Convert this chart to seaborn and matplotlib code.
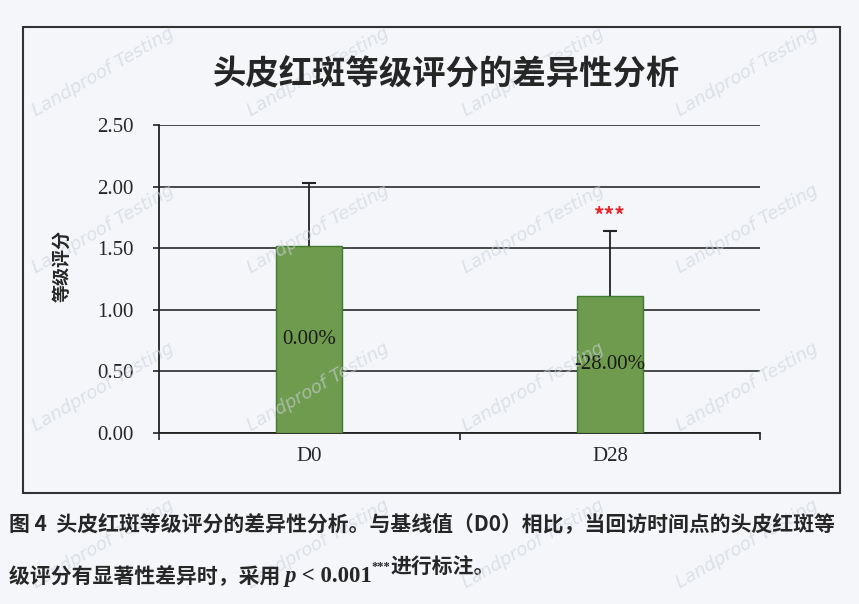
import matplotlib.pyplot as plt
import seaborn as sns
import pandas as pd
from matplotlib.patches import Rectangle

# values
visits = ["D0", "D28"]
scores = [1.52, 1.11]
sds = [0.51, 0.53]
changes = ["0.00%", "-28.00%"]
marks = ["", "***"]
yticks = [0.0, 0.5, 1.0, 1.5, 2.0, 2.5]

title = "头皮红斑等级评分的差异性分析"
ylabel = "等级评分"
caption1 = "图 4  头皮红斑等级评分的差异性分析。与基线值（D0）相比，当回访时间点的头皮红斑等"
caption2 = ["级评分有显著性差异时，采用 ", "p", " < 0.001", "***", "进行标注。"]

sns.set_theme(style="white")
cjk = ["Noto Sans CJK SC", "DejaVu Sans"]
serif = ["Liberation Serif", "DejaVu Serif"]
plt.rcParams["font.family"] = cjk

bg = "#f4f6f9"
fig = plt.figure(figsize=(8.59, 6.04), dpi=100, facecolor=bg)

# faint watermark, kept inside the page
for wx in [0.12, 0.37, 0.62, 0.87]:
    for wy in [0.1, 0.36, 0.62, 0.88]:
        fig.text(wx, wy, "Landproof Testing", rotation=30, ha="center", va="center",
                 fontsize=13, family=["DejaVu Sans"], style="italic",
                 color="#cdd3dc", alpha=0.6, zorder=0)

ax = fig.add_axes([0.185, 0.283, 0.70, 0.510])
ax.set_facecolor("none")

df = pd.DataFrame({"visit": visits, "score": scores})
sns.barplot(data=df, x="visit", y="score", width=0.22, color="#6f9b4f",
            edgecolor="#3e7a2c", linewidth=1.0, saturation=1, zorder=3, ax=ax)

# upper error bars (cap on top only) + labels
for bar, sd, lab, mk in zip(ax.patches, sds, changes, marks):
    cx = bar.get_x() + bar.get_width() / 2
    h = bar.get_height()
    ax.vlines(cx, h, h + sd, color="#222222", linewidth=1.3, zorder=4)
    ax.plot([cx], [h + sd], marker="_", markersize=10, markeredgewidth=1.5,
            color="#222222", zorder=4)
    ax.text(cx, h / 2, lab, ha="center", va="center", fontsize=15,
            family=serif, color="#1a1a1a", zorder=5)
    if mk:
        ax.text(cx, h + sd + 0.03, mk, ha="center", va="bottom",
                fontsize=15, color="#e8262b", fontweight="bold", zorder=5)

ax.set_ylim(0, 2.5)
ax.set_xlim(-0.5, 1.5)
ax.set_yticks(yticks)
ax.set_yticklabels([f"{v:.2f}" for v in yticks], family=serif, fontsize=15)
ax.set_xticks(range(len(visits)))
ax.set_xticklabels(visits, family=serif, fontsize=15)
ax.set_xlabel("")
ax.set_ylabel("")
ax.yaxis.grid(True, color="#2a2a2a", linewidth=1.2, zorder=0)
ax.set_axisbelow(True)
ax.tick_params(axis="y", length=4, width=1.2, color="#222222", pad=14, direction="out", left=True)
ax.tick_params(axis="x", length=0, pad=10)
ax.set_xticks([-0.5, 0.5, 1.5], minor=True)
ax.tick_params(axis="x", which="minor", length=5, width=1.2, color="#222222", bottom=True)
for s in ["top", "right"]:
    ax.spines[s].set_visible(False)
for s in ["left", "bottom"]:
    ax.spines[s].set_color("#222222")
    ax.spines[s].set_linewidth(1.3)

fig.text(0.072, 0.559, ylabel, rotation=90, ha="center", va="center",
         fontsize=13, fontweight="bold")
fig.text(0.52, 0.876, title, ha="center", va="center", fontsize=24, fontweight="bold")

# frame around the chart
fig.patches.append(Rectangle((0.027, 0.184), 0.951, 0.771, transform=fig.transFigure,
                             fill=False, edgecolor="#333333", linewidth=1.5))

# caption
fig.text(0.010, 0.131, caption1, ha="left", va="center", fontsize=15, fontweight="bold")
prev = fig.text(0.010, 0.045, caption2[0], ha="left", va="center", fontsize=15,
                fontweight="bold")
styles = [dict(family=serif, style="italic", fontweight="bold", fontsize=16.5),
          dict(family=serif, fontweight="bold", fontsize=16.5),
          dict(family=serif, fontweight="bold", fontsize=9),
          dict(fontweight="bold", fontsize=15)]
offsets = [0, 0, 7, 0]
for piece, st, off in zip(caption2[1:], styles, offsets):
    prev = ax.annotate(piece, xy=(1, 0.5), xycoords=prev, xytext=(0, off),
                       textcoords="offset points", ha="left", va="center",
                       annotation_clip=False, **st)

fig.savefig("out.png", dpi=100, facecolor=bg)
